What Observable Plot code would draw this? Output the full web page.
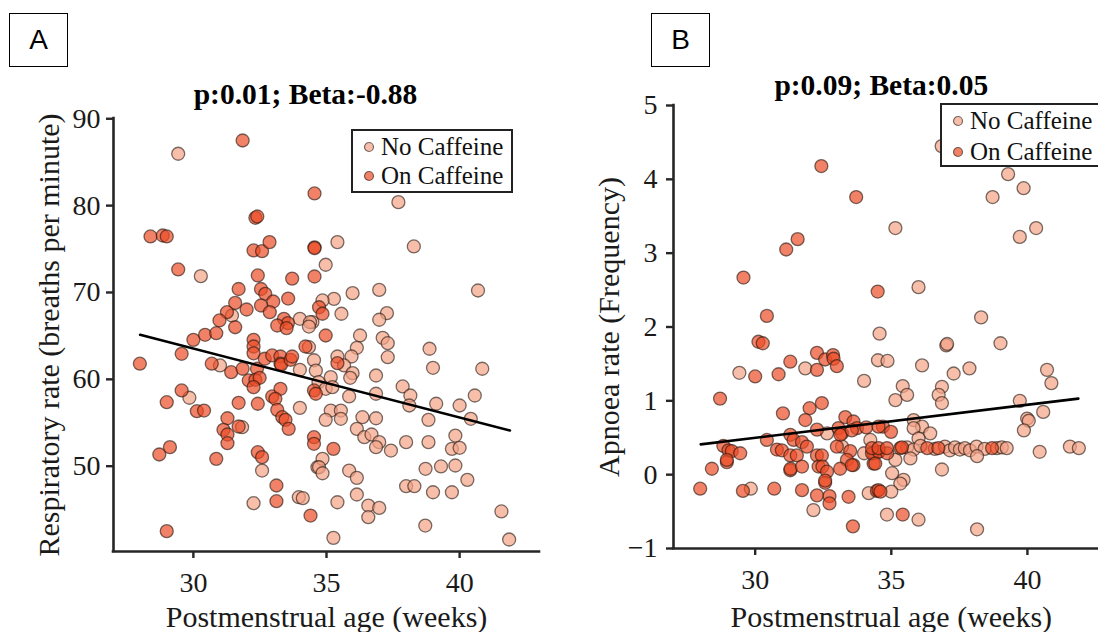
<!DOCTYPE html>
<html>
<head>
<meta charset="utf-8">
<script src="https://cdn.jsdelivr.net/npm/d3@7"></script>
<script src="https://cdn.jsdelivr.net/npm/@observablehq/plot@0.6"></script>
<style>
  html, body { margin: 0; padding: 0; background: #fff; }
  body { width: 1098px; height: 632px; overflow: hidden; position: relative;
         font-family: "Liberation Serif", "Times New Roman", serif; }
  .panel { position: absolute; top: 0; height: 632px; }
  .panel svg { max-width: none !important; display: block; }
  .tag { position: absolute; border: 1.5px solid #000; box-sizing: border-box;
         font-family: "Liberation Sans", Arial, sans-serif; font-size: 28px;
         display: flex; align-items: center; justify-content: center; background: #fff; }
  .legend { position: absolute; border: 2.5px solid #222; background: #fff; box-sizing: border-box;
            font-family: "Liberation Serif", "Times New Roman", serif;
            font-size: 25px; color: #111; white-space: nowrap; }
  .legend .row { position: absolute; left: 0; display: flex; align-items: center; height: 28px; }
  .legend svg { margin-left: 10px; margin-right: 6px; }
</style>
</head>
<body>
<div id="panelA" class="panel" style="left:0px;width:560px"></div>
<div id="panelB" class="panel" style="left:560px;width:600px"></div>
<script>
// Panel labels, titles and series names
const panelTags = ["A", "B"];
const titles = ["p:0.01; Beta:-0.88", "p:0.09; Beta:0.05"];
const seriesNames = ["No Caffeine", "On Caffeine"];
const xLabel = "Postmenstrual age (weeks)";
const yLabels = ["Respiratory rate (breaths per minute)", "Apnoea rate (Frequency)"];
const xTicks = [30, 35, 40];
const rrTicks = [50, 60, 70, 80, 90];
const apTicks = [-1, 0, 1, 2, 3, 4, 5];

// Respiratory rate vs postmenstrual age: [weeks, breaths/min]
const rrNoCaffeine = [
  [29.43,85.97],[37.7,80.4],[35.41,75.8],[38.28,75.3],[34.97,73.19],[30.28,71.88],[35.98,69.92],
  [36.98,70.3],[40.69,70.23],[35.28,69.27],[34.85,69.08],[35.56,67.55],[37.27,67.62],[36.98,66.86],
  [34.47,66.58],[31.45,67.35],[34.0,66.97],[34.38,66.58],[34.34,66.08],[31.0,61.6],[34.0,61.1],
  [34.34,63.7],[34.53,62.2],[34.6,61.0],[34.7,59.67],[29.85,57.88],[31.83,54.49],[34.0,56.72],
  [32.58,49.5],[34.66,49.88],[32.26,45.74],[33.96,46.43],[34.11,46.32],[36.26,65.05],[37.11,64.78],
  [37.3,64.16],[38.87,63.52],[39.0,61.33],[40.85,61.22],[37.3,62.55],[36.14,63.63],[35.94,62.63],
  [35.41,62.63],[35.66,61.6],[35.98,60.71],[35.89,60.18],[36.86,60.44],[35.16,60.25],[34.97,58.91],
  [35.22,59.1],[35.85,58.03],[36.86,58.34],[37.86,59.18],[38.15,58.14],[38.11,56.99],[39.12,57.19],
  [40.0,56.99],[40.57,58.14],[40.42,55.46],[38.83,55.34],[35.16,56.41],[35.54,56.41],[35.54,55.46],
  [34.97,55.34],[36.35,55.64],[36.86,55.52],[36.14,54.3],[36.42,53.34],[36.69,53.65],[36.98,52.77],
  [36.86,52.19],[37.42,51.8],[37.99,52.77],[38.83,52.77],[39.84,53.53],[39.71,52.0],[40.0,52.12],
  [38.72,49.7],[39.3,49.97],[39.84,50.08],[40.29,48.43],[37.99,47.7],[38.3,47.7],[39.0,47.0],
  [39.71,47.0],[34.85,50.85],[34.72,49.88],[34.85,49.19],[35.85,49.5],[36.14,48.66],[36.14,46.74],
  [35.41,45.85],[36.57,45.47],[36.98,45.2],[36.57,44.13],[35.26,41.75],[38.71,43.17],[41.57,44.79],
  [41.86,41.56]
];
const rrOnCaffeine = [
  [31.85,87.5],[34.55,81.4],[32.33,78.6],[32.4,78.75],[28.39,76.45],[28.85,76.56],[29.0,76.45],
  [32.26,74.84],[32.58,74.76],[32.86,75.8],[34.55,75.2],[34.55,75.1],[29.43,72.65],[32.42,71.96],
  [33.71,71.6],[34.55,71.84],[31.7,70.4],[32.54,70.4],[32.7,69.85],[33.56,69.3],[33.0,68.96],
  [31.57,68.8],[32.54,68.5],[31.26,67.73],[32.0,68.04],[32.87,67.73],[30.98,66.78],[33.4,66.97],
  [33.55,66.47],[33.15,66.2],[34.72,68.3],[34.85,67.55],[27.99,61.8],[29.56,62.94],[30.0,64.55],
  [30.44,65.13],[30.86,65.31],[31.57,66.0],[32.26,64.55],[32.26,63.78],[32.26,63.0],[33.5,65.9],
  [30.69,61.8],[31.42,60.82],[31.85,61.22],[32.39,61.22],[32.08,59.87],[32.33,59.95],[32.49,60.18],
  [32.26,59.1],[32.68,62.37],[32.96,62.75],[33.27,62.63],[33.27,61.8],[33.3,61.7],[33.65,62.25],
  [33.71,62.63],[34.21,63.78],[34.53,58.72],[34.6,58.34],[29.56,58.72],[29.0,57.37],[30.13,56.33],
  [30.4,56.41],[31.7,57.3],[32.42,57.19],[32.96,58.03],[33.27,58.91],[33.08,57.76],[33.15,56.49],
  [33.34,55.64],[33.46,55.34],[33.58,54.3],[31.28,55.52],[31.13,54.19],[31.28,53.65],[31.28,52.65],
  [31.7,54.57],[34.53,53.34],[34.53,52.58],[28.72,51.35],[29.12,52.19],[30.86,50.85],[32.42,51.61],
  [32.58,51.04],[33.12,47.78],[33.12,45.97],[34.4,44.32],[29.0,42.52],[34.97,65.05],[35.41,61.86],
  [35.26,52.0]
];
// Fitted line for respiratory rate
const rrFitX = [28.0, 41.89];
const rrFitY = [65.13, 54.11];

// Apnoea rate vs postmenstrual age: [weeks, frequency]
const apNoCaffeine = [
  [35.15,3.34],[36.0,2.54],[38.3,2.13],[39.29,4.07],[39.86,3.88],[38.72,3.76],[39.72,3.22],
  [40.32,3.34],[34.57,1.91],[36.85,4.45],[29.42,1.38],[31.84,1.44],[34.0,1.27],[34.51,1.55],
  [32.64,0.56],[37.02,1.75],[37.05,1.77],[39.01,1.78],[34.86,1.54],[36.13,1.48],[37.29,1.37],
  [37.87,1.44],[40.72,1.42],[40.88,1.24],[35.42,1.2],[35.58,1.08],[35.15,1.01],[36.86,1.19],
  [36.74,1.08],[36.86,0.97],[39.72,1.0],[40.58,0.85],[39.99,0.76],[40.05,0.73],[39.87,0.6],
  [35.82,0.74],[36.13,0.65],[36.43,0.56],[35.82,0.63],[36.0,0.49],
  [35.58,0.37],[35.82,0.34],[36.07,0.39],[36.6,0.35],[36.97,0.38],[37.15,0.33],[37.34,0.37],
  [37.52,0.34],[37.7,0.36],[37.89,0.33],[38.13,0.38],[38.43,0.35],[38.88,0.36],[39.06,0.37],
  [39.24,0.36],[41.56,0.38],[41.89,0.36],[40.45,0.31],[35.15,0.2],[35.7,0.22],[38.15,0.25],
  [36.86,0.07],[35.03,0.02],[35.45,-0.07],[35.33,-0.12],[35.0,-0.23],[34.84,-0.54],[36.0,-0.61],
  [38.15,-0.74],[29.84,-0.19],[32.14,-0.48],[34.17,-0.25],[34.0,0.29],[34.23,0.47],[33.19,0.38]
];
const apOnCaffeine = [
  [32.43,4.18],[33.71,3.76],[31.56,3.19],[31.14,3.05],[29.57,2.67],[30.43,2.15],[34.5,2.48],
  [30.12,1.8],[30.28,1.78],[28.71,1.03],[30.0,1.33],[30.86,1.36],[31.29,1.53],[32.27,1.42],
  [32.27,1.65],[32.57,1.56],[32.86,1.62],[32.88,1.57],[33.0,1.47],[31.02,0.83],[32.0,0.9],
  [32.45,0.97],[31.84,0.74],[33.31,0.78],[33.61,0.72],[33.74,0.63],[32.27,0.61],[33.06,0.63],
  [33.19,0.56],[33.13,0.54],[33.55,0.6],[34.08,0.64],[31.29,0.54],[30.43,0.47],[30.8,0.34],
  [30.98,0.33],[31.41,0.47],[31.72,0.44],[31.9,0.38],[28.83,0.39],[29.02,0.33],[29.14,0.32],
  [29.45,0.29],[28.96,0.17],[28.96,0.2],[28.41,0.08],[31.29,0.26],[31.53,0.26],[31.29,0.06],
  [31.3,0.08],[31.72,0.11],[32.27,0.26],[32.45,0.26],[33.0,0.38],[33.49,0.32],[33.37,0.2],
  [33.61,0.13],[34.35,0.29],[34.53,0.31],[32.33,0.11],[32.47,0.11],[32.64,0.04],[33.12,0.08],
  [33.55,0.13],[34.35,0.15],[32.57,-0.11],[32.57,-0.08],[27.98,-0.19],[29.55,-0.22],[30.7,-0.19],
  [31.72,-0.21],[32.27,-0.28],[32.73,-0.29],[32.73,-0.39],[33.43,-0.3],[34.47,-0.22],[33.59,-0.7],
  [34.69,0.65],[34.99,0.58],[34.53,0.65],[34.29,0.29],[34.54,0.31],[34.85,0.29],[34.41,0.15],
  [34.53,-0.21],[34.6,-0.23],[35.42,-0.54],[35.33,0.36],[35.39,0.37],[36.32,0.36],[36.73,0.36],
  [38.7,0.36],[34.29,0.36],[34.53,0.36],[34.84,0.36]
];
// Fitted line for apnoea rate
const apFitX = [28.0, 41.87];
const apFitY = [0.41, 1.03];

const noFill = "#f4a286";
const onFill = "#eb4c27";
const dotStyle = {r: 6.5, fillOpacity: 0.7, stroke: "#22160f", strokeOpacity: 0.6, strokeWidth: 1.3};
const axisColor = "#262626";
const serif = '"Liberation Serif", "Times New Roman", serif';

const toRows = pairs => pairs.map(([x, y]) => ({x, y}));
const fitRows = (xs, ys) => xs.map((x, i) => ({x, y: ys[i]}));

function panel(o) {
  const svg = Plot.plot({
    width: o.width, height: 632,
    marginLeft: o.mL, marginRight: o.mR, marginTop: o.mT, marginBottom: o.mB,
    style: {fontFamily: serif, fontSize: "28px", color: "#1a1a1a", background: "transparent", overflow: "visible"},
    x: {domain: [27, 43]},
    y: {domain: o.yDomain},
    marks: [
      Plot.dot(toRows(o.no), {x: "x", y: "y", fill: noFill, ...dotStyle}),
      Plot.dot(toRows(o.on), {x: "x", y: "y", fill: onFill, ...dotStyle}),
      Plot.line(fitRows(o.fitX, o.fitY), {x: "x", y: "y", stroke: "#000", strokeWidth: 2.6}),
      Plot.ruleX([27], {stroke: axisColor, strokeWidth: 2.6, strokeLinecap: "square"}),
      Plot.ruleY([o.yDomain[0]], {stroke: axisColor, strokeWidth: 2.6, strokeLinecap: "square"}),
      Plot.axisX({ticks: xTicks, tickSize: 7, tickPadding: 14, tickFormat: d3.format("d"), label: null,
        stroke: axisColor, strokeWidth: 2.4, fontFamily: serif, fontSize: 28}),
      Plot.axisY({ticks: o.yTicks, tickSize: 7, tickPadding: o.yPad, tickFormat: d3.format("d"), label: null,
        stroke: axisColor, strokeWidth: 2.4, fontFamily: serif, fontSize: 28}),
      Plot.text([o.title], {text: d => d, frameAnchor: "top", lineAnchor: "bottom", dx: o.titleDx, dy: o.titleDy,
        fontFamily: serif, fontWeight: "bold", fontSize: 29.5, fill: "#000"}),
      Plot.text([xLabel], {text: d => d, frameAnchor: "bottom", lineAnchor: "bottom", dy: o.xLabelDy,
        fontFamily: serif, fontSize: 30, fill: "#1a1a1a"}),
      Plot.text([o.yLabel], {text: d => d, frameAnchor: "left", textAnchor: "middle", lineAnchor: "bottom",
        rotate: -90, dx: o.yLabelDx, fontFamily: serif, fontSize: 30, fill: "#1a1a1a"})
    ]
  });
  svg.style.maxWidth = "none";
  svg.style.fontFamily = serif;
  return svg;
}

document.getElementById("panelA").append(panel({
  width: 560, mL: 113, mR: 21, mT: 118, mB: 81,
  yDomain: [40.18, 90.03], yTicks: rrTicks, yPad: 6,
  no: rrNoCaffeine, on: rrOnCaffeine, fitX: rrFitX, fitY: rrFitY,
  title: titles[0], titleDx: -21, titleDy: -15, xLabelDy: 75,
  yLabel: yLabels[0], yLabelDx: -55
}));

document.getElementById("panelB").append(panel({
  width: 600, mL: 113, mR: 51.4, mT: 105, mB: 84,
  yDomain: [-1, 5], yTicks: apTicks, yPad: 9,
  no: apNoCaffeine, on: apOnCaffeine, fitX: apFitX, fitY: apFitY,
  title: titles[1], titleDx: -10, titleDy: -11, xLabelDy: 78,
  yLabel: yLabels[1], yLabelDx: -55
}));

// Panel tags and legends
function addTag(text, left, top) {
  const d = document.createElement("div");
  d.className = "tag";
  d.textContent = text;
  Object.assign(d.style, {left: left + "px", top: top + "px", width: "59px", height: "54px"});
  document.body.append(d);
}
addTag(panelTags[0], 9, 13);
addTag(panelTags[1], 651, 13);

function addLegend(left, top, width, rowTops) {
  const box = document.createElement("div");
  box.className = "legend";
  Object.assign(box.style, {left: left + "px", top: top + "px", width: width + "px", height: "64px"});
  [noFill, onFill].forEach((fill, i) => {
    const row = document.createElement("div");
    row.className = "row";
    row.style.top = rowTops[i] + "px";
    const ns = "http://www.w3.org/2000/svg";
    const svg = document.createElementNS(ns, "svg");
    svg.setAttribute("width", 12); svg.setAttribute("height", 12);
    const c = document.createElementNS(ns, "circle");
    c.setAttribute("cx", 6); c.setAttribute("cy", 6); c.setAttribute("r", 4.5);
    c.setAttribute("fill", fill); c.setAttribute("fill-opacity", 0.7);
    c.setAttribute("stroke", "#22160f"); c.setAttribute("stroke-opacity", 0.6); c.setAttribute("stroke-width", 1.2);
    svg.append(c);
    const t = document.createElement("span");
    t.textContent = seriesNames[i];
    row.append(svg, t);
    box.append(row);
  });
  document.body.append(box);
}
addLegend(351, 129, 162, [2, 31]);
addLegend(940, 103, 200, [2, 33]);
</script>
</body>
</html>
